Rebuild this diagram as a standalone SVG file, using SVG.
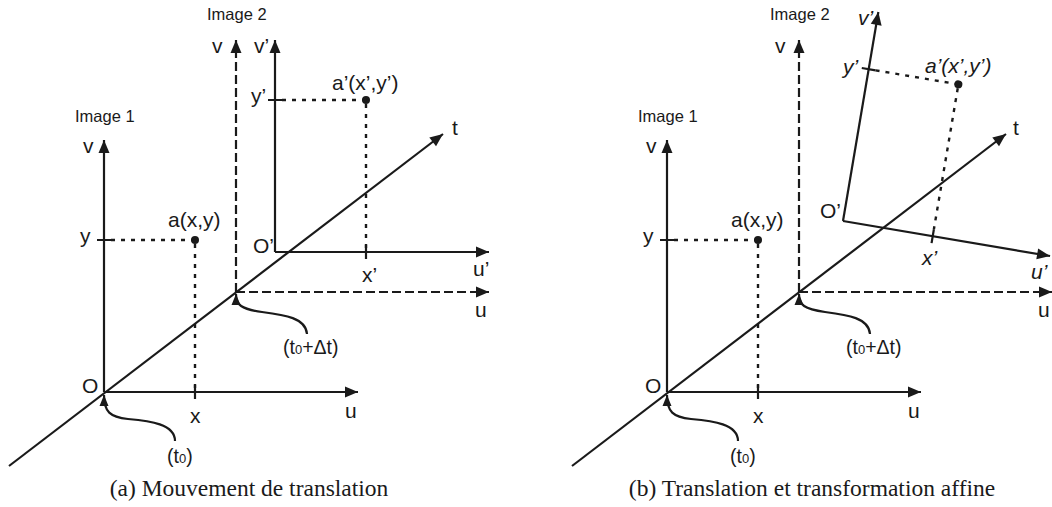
<svg xmlns="http://www.w3.org/2000/svg" width="1052" height="507" viewBox="0 0 1052 507">
<style>
.ax{fill:none;stroke:#1a1a1a;stroke-width:2.2}
.da{fill:none;stroke:#1a1a1a;stroke-width:2.2;stroke-dasharray:9,4}
.dt{fill:none;stroke:#1a1a1a;stroke-width:2.4;stroke-dasharray:4,6}
.cv{fill:none;stroke:#1a1a1a;stroke-width:2.2}
.lb{font-family:"Liberation Sans",Arial,sans-serif;font-size:21px;fill:#1a1a1a}
.it{font-family:"Liberation Sans",Arial,sans-serif;font-size:21px;font-style:italic;fill:#1a1a1a}
.im{font-family:"Liberation Sans",Arial,sans-serif;font-size:16.5px;fill:#1a1a1a}
.tl{font-family:"Liberation Sans",Arial,sans-serif;font-size:19.5px;fill:#1a1a1a}
.cap{font-family:"Liberation Serif","Times New Roman",serif;font-size:23.5px;fill:#1a1a1a}
.pt{fill:#1a1a1a}
</style>
<defs>
<marker id="ah" markerUnits="userSpaceOnUse" markerWidth="14" markerHeight="12" refX="13" refY="5.5" orient="auto" overflow="visible"><path d="M0,0 L13,5.5 L0,11 z" fill="#1a1a1a"/></marker>
<marker id="ah2" markerUnits="userSpaceOnUse" markerWidth="12" markerHeight="10" refX="11" refY="4.5" orient="auto" overflow="visible"><path d="M0,0 L11,4.5 L0,9 z" fill="#1a1a1a"/></marker>
</defs>

<!-- Panel (a) -->
<g id="panel-a">
  <g id="a-time-axis">
    <path class="ax" d="M9,466 L443,134" marker-end="url(#ah)"/>
    <text class="lb" x="452" y="135">t</text>
  </g>
  <g id="a-image1">
    <text class="im" x="75" y="122">Image 1</text>
    <path class="ax" d="M104,392 V140" marker-end="url(#ah)"/>
    <path class="ax" d="M104,392 H358" marker-end="url(#ah)"/>
    <path class="ax" d="M97,240 H111 M195,385 V399"/>
    <path class="dt" d="M111,240 H195 M195,244 V392"/>
    <circle class="pt" cx="195" cy="240" r="4"/>
    <text class="lb" x="83" y="153">v</text>
    <text class="lb" x="80" y="243">y</text>
    <text class="lb" x="168" y="227">a(x,y)</text>
    <text class="lb" x="82" y="393">O</text>
    <text class="lb" x="190" y="423">x</text>
    <text class="lb" x="345" y="418">u</text>
  </g>
  <g id="a-image2-dashed">
    <text class="im" x="207" y="20">Image 2</text>
    <path class="da" d="M236,292 V40" marker-end="url(#ah)"/>
    <path class="da" d="M236,292 H489" marker-end="url(#ah)"/>
    <text class="lb" x="212" y="53">v</text>
    <text class="lb" x="475" y="317">u</text>
  </g>
  <g id="a-image2-frame">
    <path class="ax" d="M275,252 V40" marker-end="url(#ah)"/>
    <path class="ax" d="M275,252 H489" marker-end="url(#ah)"/>
    <path class="ax" d="M268,100 H282 M366,245 V259"/>
    <path class="dt" d="M282,100 H366 M366,104 V252"/>
    <circle class="pt" cx="366" cy="100" r="4"/>
    <text class="lb" x="254" y="53">v’</text>
    <text class="lb" x="251" y="103">y’</text>
    <text class="lb" x="332" y="90">a’(x’,y’)</text>
    <text class="lb" x="253" y="253">O’</text>
    <text class="lb" x="362" y="282">x’</text>
    <text class="lb" x="473" y="276">u’</text>
  </g>
  <g id="a-callouts">
    <path class="cv" d="M175,441 C175,424 150,421 128,419 C110,417 104,412 104,395" marker-end="url(#ah2)"/>
    <text class="tl" x="167" y="463">(t<tspan font-size="13">0</tspan>)</text>
    <path class="cv" d="M307,334 C306,318 285,315 262,312 C241,309 236,305 236,294" marker-end="url(#ah2)"/>
    <text class="tl" x="283" y="354">(t<tspan font-size="13">0</tspan>+Δt)</text>
  </g>
  <text class="cap" x="249" y="496" text-anchor="middle">(a) Mouvement de translation</text>
</g>

<!-- Panel (b) -->
<g id="panel-b">
  <g id="b-common" transform="translate(563,0)">
    <g id="b-time-axis">
      <path class="ax" d="M9,466 L443,134" marker-end="url(#ah)"/>
      <text class="lb" x="450" y="135">t</text>
    </g>
    <g id="b-image1">
      <text class="im" x="75" y="122">Image 1</text>
      <path class="ax" d="M104,392 V140" marker-end="url(#ah)"/>
      <path class="ax" d="M104,392 H358" marker-end="url(#ah)"/>
      <path class="ax" d="M97,240 H111 M195,385 V399"/>
      <path class="dt" d="M111,240 H195 M195,244 V392"/>
      <circle class="pt" cx="195" cy="240" r="4"/>
      <text class="lb" x="83" y="153">v</text>
      <text class="lb" x="80" y="243">y</text>
      <text class="lb" x="168" y="227">a(x,y)</text>
      <text class="lb" x="82" y="393">O</text>
      <text class="lb" x="190" y="423">x</text>
      <text class="lb" x="345" y="418">u</text>
    </g>
    <g id="b-image2-dashed">
      <text class="im" x="207" y="20">Image 2</text>
      <path class="da" d="M236,292 V40" marker-end="url(#ah)"/>
      <path class="da" d="M236,292 H489" marker-end="url(#ah)"/>
      <text class="lb" x="212" y="53">v</text>
      <text class="lb" x="475" y="317">u</text>
    </g>
    <g id="b-callouts">
      <path class="cv" d="M175,441 C175,424 150,421 128,419 C110,417 104,412 104,395" marker-end="url(#ah2)"/>
      <text class="tl" x="167" y="463">(t<tspan font-size="13">0</tspan>)</text>
      <path class="cv" d="M307,334 C306,318 285,315 262,312 C241,309 236,305 236,294" marker-end="url(#ah2)"/>
      <text class="tl" x="283" y="354">(t<tspan font-size="13">0</tspan>+Δt)</text>
    </g>
  </g>
  <g id="b-image2-affine">
    <g transform="translate(843,221) rotate(9.6)">
      <path class="ax" d="M0,0 H210" marker-end="url(#ah)"/>
      <path class="ax" d="M0,0 V-212" marker-end="url(#ah)"/>
      <path class="ax" d="M-7,-154 H7 M91,-7 V7"/>
      <path class="dt" d="M7,-154 H91 M91,-150 V-7"/>
      <circle class="pt" cx="91" cy="-154" r="4"/>
    </g>
    <text class="it" x="858" y="25">v’</text>
    <text class="it" x="843" y="74">y’</text>
    <text class="it" x="925" y="73">a’(x’,y’)</text>
    <text class="lb" x="820" y="218">O’</text>
    <text class="it" x="922" y="265">x’</text>
    <text class="it" x="1031" y="279">u’</text>
  </g>
  <text class="cap" x="812" y="496" text-anchor="middle">(b) Translation et transformation affine</text>
</g>
</svg>
